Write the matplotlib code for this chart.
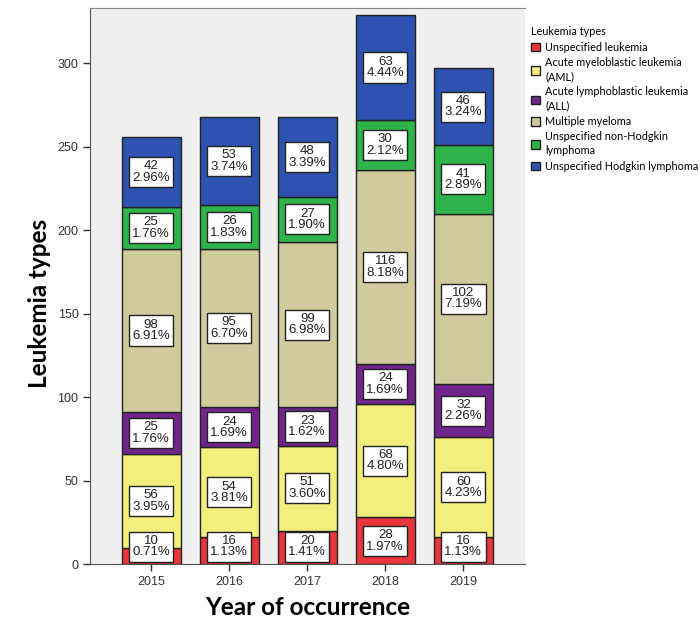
import matplotlib
matplotlib.use('Agg')
import matplotlib.pyplot as plt
import numpy as np

years = ['2015', '2016', '2017', '2018', '2019']
types = ['Unspecified leukemia',
         'Acute myeloblastic leukemia\n(AML)',
         'Acute lymphoblastic leukemia\n(ALL)',
         'Multiple myeloma',
         'Unspecified non-Hodgkin\nlymphoma',
         'Unspecified Hodgkin lymphoma']
colors = ['#e8363c', '#f3ef7c', '#72248d', '#cfcb9c', '#2fb44b', '#2e52b2']

unspecified_leukemia = [10, 16, 20, 28, 16]
aml = [56, 54, 51, 68, 60]
all_ = [25, 24, 23, 24, 32]
myeloma = [98, 95, 99, 116, 102]
non_hodgkin = [25, 26, 27, 30, 41]
hodgkin = [42, 53, 48, 63, 46]

series = [unspecified_leukemia, aml, all_, myeloma, non_hodgkin, hodgkin]
total = sum(sum(s) for s in series)

fig = plt.figure(figsize=(7, 6.29), dpi=100)
ax = fig.add_axes([0.129, 0.103, 0.621, 0.884])
ax.set_facecolor('#efefef')

x = np.arange(len(years))
bottom = np.zeros(len(years))
bars = []
for name, vals, col in zip(types, series, colors):
    vals = np.array(vals, dtype=float)
    b = ax.bar(x, vals, 0.76, bottom=bottom, color=col, edgecolor='#222222',
               linewidth=1.0, label=name, zorder=2)
    bars.append(b)
    for xi, v, b0 in zip(x, vals, bottom):
        # keep the box inside the axes for thin segments at the bottom
        yc = max(b0 + v / 2.0, 10.5)
        ax.text(xi, yc, '%d\n%.2f%%' % (v, 100.0 * v / total),
                ha='center', va='center', fontsize=9.5, family='Liberation Sans',
                color='#222222', linespacing=0.95, zorder=3,
                bbox=dict(boxstyle='square,pad=0.25', fc='white', ec='#222222', lw=1.0))
    bottom += vals

ax.set_xlim(-0.78, 4.79)
ax.set_ylim(0, 333)
ax.set_xticks(x)
ax.set_xticklabels(years)
ax.set_yticks([0, 50, 100, 150, 200, 250, 300])
for lab in ax.get_xticklabels() + ax.get_yticklabels():
    lab.set_family('Liberation Sans')
    lab.set_fontsize(9)
    lab.set_color('#333333')
ax.tick_params(direction='out', length=5, width=1, color='#333333')

ax.spines['right'].set_visible(False)
ax.spines['top'].set_color('#888888')
ax.spines['left'].set_color('#555555')
ax.spines['bottom'].set_color('#555555')

ax.set_xlabel('Year of occurrence', fontsize=17.5, fontweight='bold', family='Lato', labelpad=6)
fig.text(0.057, 0.518, 'Leukemia types', rotation=90, ha='center', va='center',
         fontsize=17.5, fontweight='bold', family='Lato')

leg = fig.legend(handles=bars, loc='upper left', bbox_to_anchor=(0.752, 0.965),
                 frameon=False, title='Leukemia types', alignment='left',
                 prop={'family': 'Lato', 'size': 7.8}, title_fontproperties={'family': 'Lato', 'size': 7.8},
                 handlelength=0.85, handleheight=0.85, handletextpad=0.5,
                 labelspacing=0.4, borderaxespad=0)
for t in leg.get_texts():
    t.set_linespacing(1.35)

fig.savefig('out.png', dpi=100)
